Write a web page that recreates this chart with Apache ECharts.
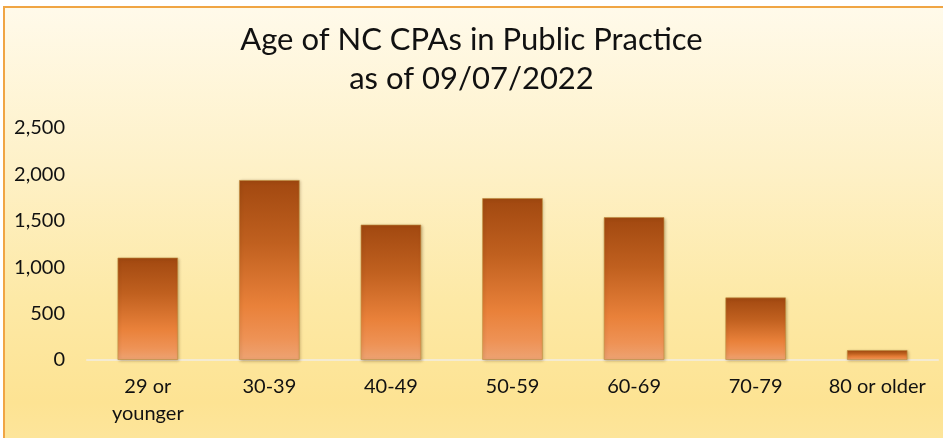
<!DOCTYPE html>
<html>
<head>
<meta charset="utf-8">
<script src="https://cdn.jsdelivr.net/npm/echarts@6/dist/echarts.min.js"></script>
<style>
html,body{margin:0;padding:0;background:#ffffff;width:943px;height:438px;overflow:hidden;}
#panel{position:absolute;left:3px;top:6px;width:950px;height:450px;box-sizing:border-box;
  border-top:2px solid #F0A544;border-left:2px solid #F0A544;
  background:linear-gradient(180deg,#FFFAEA 0%,#FEF1C8 35%,#FDE9A6 65%,#FDE393 88%,#FDE69E 100%);}
#chart{position:absolute;left:0;top:0;width:943px;height:438px;}
</style>
</head>
<body>
<div id="panel"></div>
<div id="chart"></div>
<script>
var categories = ['29 or\nyounger', '30-39', '40-49', '50-59', '60-69', '70-79', '80 or older'];
var values = [1105, 1940, 1460, 1745, 1540, 675, 108];
var yTicks = [0, 500, 1000, 1500, 2000, 2500];
var titleLines = ['Age of NC CPAs in Public Practice', 'as of 09/07/2022'];

var chart = echarts.init(document.getElementById('chart'), null, {renderer: 'canvas'});
var font = 'Lato, "Open Sans", sans-serif';
chart.setOption({
  backgroundColor: 'transparent',
  animation: false,
  title: {
    text: titleLines.join('\n'),
    left: 'center',
    top: 15,
    padding: [5, 0, 5, 14],
    textStyle: {fontFamily: font, fontSize: 31, fontWeight: 'normal', color: '#111111', lineHeight: 39}
  },
  grid: {left: 87, right: 5, top: 128, bottom: 78, containLabel: false},
  xAxis: {
    type: 'category',
    data: categories,
    axisLine: {show: true, lineStyle: {color: '#F4EBD2', width: 2}},
    axisTick: {show: false},
    axisLabel: {fontFamily: font, fontSize: 20, color: '#111111', margin: 13, lineHeight: 27, interval: 0}
  },
  yAxis: {
    type: 'value',
    min: yTicks[0],
    max: yTicks[yTicks.length - 1],
    interval: 500,
    splitLine: {show: false},
    axisLine: {show: false},
    axisTick: {show: false},
    axisLabel: {
      fontFamily: font, fontSize: 20, color: '#111111', margin: 22,
      formatter: function (v) { return v.toLocaleString('en-US'); }
    }
  },
  series: [{
    type: 'bar',
    data: values,
    barWidth: '50%',
    itemStyle: {
      color: {
        type: 'linear', x: 0, y: 0, x2: 0, y2: 1,
        colorStops: [
          {offset: 0, color: '#A14810'},
          {offset: 0.35, color: '#C0601F'},
          {offset: 0.7, color: '#E9813A'},
          {offset: 0.88, color: '#EE9255'},
          {offset: 1, color: '#EDA373'}
        ]
      },
      borderColor: 'rgba(190,140,60,0.6)',
      borderWidth: 1,
      shadowBlur: 3,
      shadowColor: 'rgba(80,50,0,0.35)',
      shadowOffsetX: 1,
      shadowOffsetY: 1
    }
  }]
});
</script>
</body>
</html>
